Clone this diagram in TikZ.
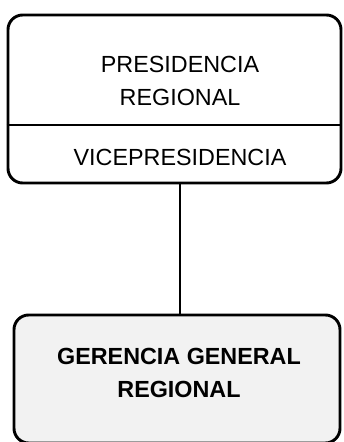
\documentclass[tikz,border=0pt]{standalone}
\usepackage{fontspec}
\setmainfont{Liberation Sans}
\usetikzlibrary{positioning,calc}

\begin{document}
\begin{tikzpicture}[
    x=0.75pt, y=0.75pt,
    unitbox/.style={rectangle, rounded corners=11pt, draw=black, line width=2.2pt},
    unittext/.style={align=center, inner sep=0pt, font=\fontsize{17.5}{24.5}\selectfont},
    ]
    \useasboundingbox (0,0) rectangle (343,442);
    %Nodes
    \node[unitbox, minimum width=249.75pt, minimum height=126pt]             (presid)   at (174.5,343) {};
    \node[unitbox, fill=black!5, minimum width=244.5pt, minimum height=96pt] (gerencia) at (177,63)    {};
    \coordinate (split) at (174.5,317);

    % Text labels
    \node[unittext]                 (presidtext) at (180,361) {PRESIDENCIA\\REGIONAL};
    \node[unittext]                 (vice)       at (180,285) {VICEPRESIDENCIA};
    \node[unittext, font=\bfseries\fontsize{17.5}{24.5}\selectfont] (gertext) at (179,69) {GERENCIA GENERAL\\REGIONAL};

    %Lines
    \draw[line width=1.6pt] (split -| presid.west) -- (split -| presid.east);
    \draw[line width=1.6pt] (vice.south |- presid.south) -- (vice.south |- gerencia.north);
\end{tikzpicture}
\end{document}
